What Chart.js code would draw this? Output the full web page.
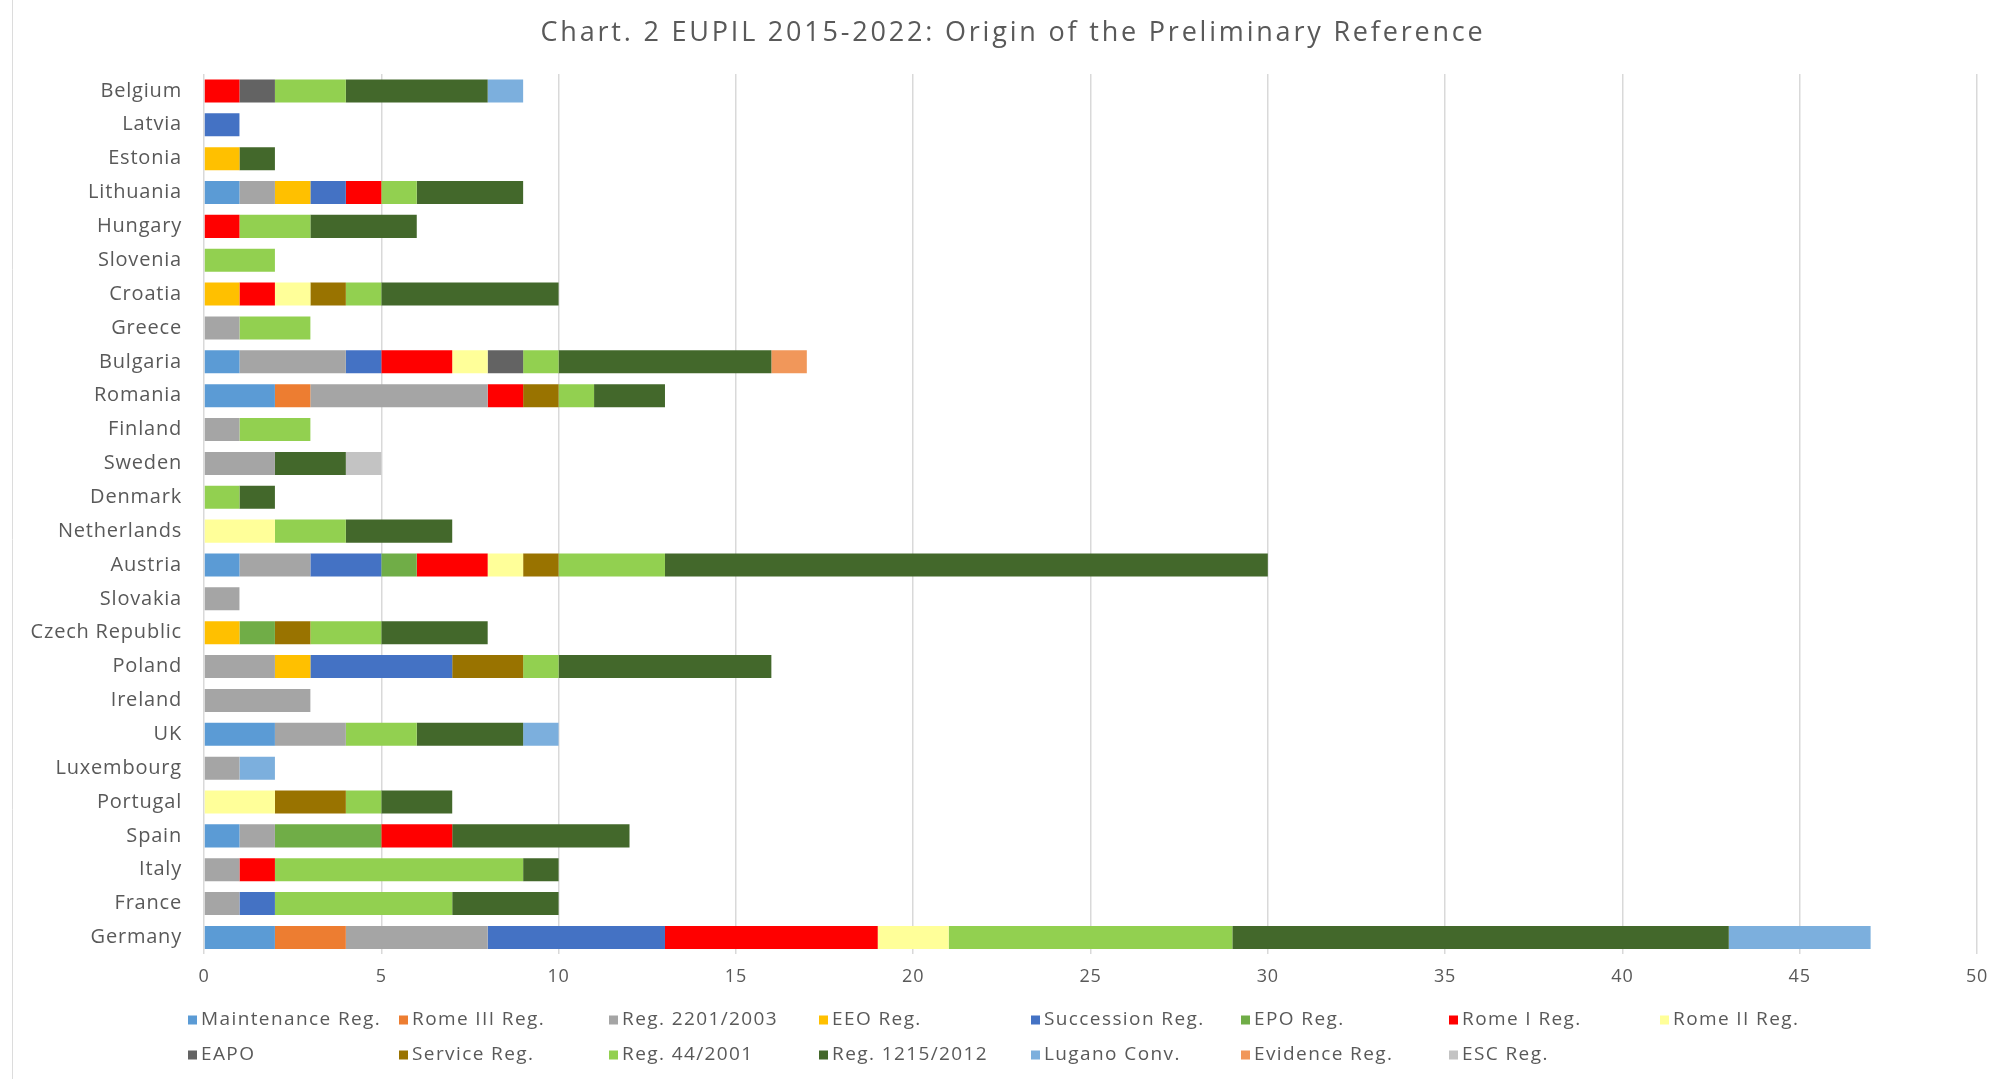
<!DOCTYPE html>
<html>
<head>
<meta charset="utf-8">
<script src="https://cdn.jsdelivr.net/npm/chart.js@4.4.1/dist/chart.umd.min.js"></script>
<style>
  html, body { margin: 0; padding: 0; background: #ffffff; }
  #wrap { width: 2006px; height: 1079px; position: relative; }
</style>
</head>
<body>
<div id="wrap"><canvas id="c" width="2006" height="1079"></canvas></div>
<script>
// ---- Data ----
const chartTitle = 'Chart. 2 EUPIL 2015-2022: Origin of the Preliminary Reference';

const countries = ["Belgium","Latvia","Estonia","Lithuania","Hungary","Slovenia","Croatia","Greece","Bulgaria","Romania","Finland","Sweden","Denmark","Netherlands","Austria","Slovakia","Czech Republic","Poland","Ireland","UK","Luxembourg","Portugal","Spain","Italy","France","Germany"];

const seriesNames = ["Maintenance Reg.","Rome III Reg.","Reg. 2201/2003","EEO Reg.","Succession Reg.","EPO Reg.","Rome I Reg.","Rome II Reg.","EAPO","Service Reg.","Reg. 44/2001","Reg. 1215/2012","Lugano Conv.","Evidence Reg.","ESC Reg."];

//                         Be La Es Li Hu Sl Cr Gr Bu Ro Fi Sw De Ne Au Sk Cz Po Ir UK Lu Pt Sp It Fr Ge
const maintenanceReg  = [0, 0, 0, 1, 0, 0, 0, 0, 1, 2, 0, 0, 0, 0, 1, 0, 0, 0, 0, 2, 0, 0, 1, 0, 0, 2];
const romeIIIReg      = [0, 0, 0, 0, 0, 0, 0, 0, 0, 1, 0, 0, 0, 0, 0, 0, 0, 0, 0, 0, 0, 0, 0, 0, 0, 2];
const reg2201         = [0, 0, 0, 1, 0, 0, 0, 1, 3, 5, 1, 2, 0, 0, 2, 1, 0, 2, 3, 2, 1, 0, 1, 1, 1, 4];
const eeoReg          = [0, 0, 1, 1, 0, 0, 1, 0, 0, 0, 0, 0, 0, 0, 0, 0, 1, 1, 0, 0, 0, 0, 0, 0, 0, 0];
const successionReg   = [0, 1, 0, 1, 0, 0, 0, 0, 1, 0, 0, 0, 0, 0, 2, 0, 0, 4, 0, 0, 0, 0, 0, 0, 1, 5];
const epoReg          = [0, 0, 0, 0, 0, 0, 0, 0, 0, 0, 0, 0, 0, 0, 1, 0, 1, 0, 0, 0, 0, 0, 3, 0, 0, 0];
const romeIReg        = [1, 0, 0, 1, 1, 0, 1, 0, 2, 1, 0, 0, 0, 0, 2, 0, 0, 0, 0, 0, 0, 0, 2, 1, 0, 6];
const romeIIReg       = [0, 0, 0, 0, 0, 0, 1, 0, 1, 0, 0, 0, 0, 2, 1, 0, 0, 0, 0, 0, 0, 2, 0, 0, 0, 2];
const eapo            = [1, 0, 0, 0, 0, 0, 0, 0, 1, 0, 0, 0, 0, 0, 0, 0, 0, 0, 0, 0, 0, 0, 0, 0, 0, 0];
const serviceReg      = [0, 0, 0, 0, 0, 0, 1, 0, 0, 1, 0, 0, 0, 0, 1, 0, 1, 2, 0, 0, 0, 2, 0, 0, 0, 0];
const reg44           = [2, 0, 0, 1, 2, 2, 1, 2, 1, 1, 2, 0, 1, 2, 3, 0, 2, 1, 0, 2, 0, 1, 0, 7, 5, 8];
const reg1215         = [4, 0, 1, 3, 3, 0, 5, 0, 6, 2, 0, 2, 1, 3,17, 0, 3, 6, 0, 3, 0, 2, 5, 1, 3,14];
const luganoConv      = [1, 0, 0, 0, 0, 0, 0, 0, 0, 0, 0, 0, 0, 0, 0, 0, 0, 0, 0, 1, 1, 0, 0, 0, 0, 4];
const evidenceReg     = [0, 0, 0, 0, 0, 0, 0, 0, 1, 0, 0, 0, 0, 0, 0, 0, 0, 0, 0, 0, 0, 0, 0, 0, 0, 0];
const escReg          = [0, 0, 0, 0, 0, 0, 0, 0, 0, 0, 0, 1, 0, 0, 0, 0, 0, 0, 0, 0, 0, 0, 0, 0, 0, 0];

const xTicks = [0, 5, 10, 15, 20, 25, 30, 35, 40, 45, 50];

const seriesValues = [maintenanceReg, romeIIIReg, reg2201, eeoReg, successionReg, epoReg, romeIReg, romeIIReg, eapo, serviceReg, reg44, reg1215, luganoConv, evidenceReg, escReg];
const seriesColors = ["#5B9BD5","#ED7D31","#A5A5A5","#FFC000","#4472C4","#70AD47","#FF0000","#FFFF99","#636363","#997300","#92D050","#43682B","#7CAFDD","#F1975A","#C3C3C3"];

const FONT = "'Open Sans', 'DejaVu Sans', sans-serif";
const TEXT = "#595959";

const datasets = seriesNames.map((name, i) => ({
  label: name,
  data: seriesValues[i],
  backgroundColor: seriesColors[i],
  borderWidth: 0,
  barPercentage: 0.68,
  categoryPercentage: 1.0
}));

// Excel-style title, frame line and fixed-column legend
const excelDecor = {
  id: 'excelDecor',
  beforeDraw(chart, args, opts) {
    const ctx = chart.ctx;
    ctx.save();
    ctx.fillStyle = '#ffffff';
    ctx.fillRect(0, 0, chart.width, chart.height);
    ctx.strokeStyle = '#dcdcdc';
    ctx.lineWidth = 1;
    ctx.beginPath();
    ctx.moveTo(12.5, 0);
    ctx.lineTo(12.5, chart.height);
    ctx.stroke();
    // title
    ctx.letterSpacing = opts.titleSpacing;
    ctx.font = opts.titleFont;
    ctx.fillStyle = opts.color;
    ctx.textAlign = 'center';
    ctx.textBaseline = 'middle';
    ctx.fillText(opts.title, opts.titleX, opts.titleY);
    ctx.restore();
    // slight letter spacing for axis labels (Excel-like wide rendering)
    ctx.letterSpacing = opts.axisSpacing;
  },
  afterDraw(chart, args, opts) {
    const ctx = chart.ctx;
    ctx.save();
    ctx.letterSpacing = opts.legendSpacing;
    ctx.font = opts.legendFont;
    ctx.textBaseline = 'middle';
    ctx.textAlign = 'left';
    chart.data.datasets.forEach((ds, i) => {
      const row = Math.floor(i / opts.perRow);
      const col = i % opts.perRow;
      const x = opts.cols[col];
      const y = opts.rows[row];
      ctx.fillStyle = ds.backgroundColor;
      ctx.fillRect(x, y - opts.box / 2, opts.box, opts.box);
      ctx.fillStyle = opts.color;
      ctx.fillText(ds.label, x + opts.box + 4, y);
    });
    ctx.restore();
    ctx.letterSpacing = '0px';
  }
};

new Chart(document.getElementById('c'), {
  type: 'bar',
  data: { labels: countries, datasets },
  options: {
    indexAxis: 'y',
    responsive: false,
    animation: false,
    layout: { padding: { left: 0, right: 29, top: 74, bottom: 79 } },
    plugins: {
      legend: { display: false },
      tooltip: { enabled: false },
      title: { display: false },
      excelDecor: {
        title: chartTitle,
        titleFont: "27px 'Open Sans', 'DejaVu Sans', sans-serif",
        titleSpacing: '2.8px',
        titleX: 1013,
        titleY: 33,
        axisSpacing: '0.8px',
        cols: [188, 399, 609, 819, 1031, 1241, 1449, 1660],
        rows: [1020, 1055],
        perRow: 8,
        box: 9,
        color: TEXT,
        legendFont: "19px 'Open Sans', 'DejaVu Sans', sans-serif",
        legendSpacing: '1.4px'
      }
    },
    scales: {
      x: {
        stacked: true,
        min: 0,
        max: 50,
        afterBuildTicks: (scale) => { scale.ticks = xTicks.map(v => ({ value: v })); },
        ticks: { color: TEXT, font: { family: FONT, size: 18 }, padding: 12 },
        grid: { color: '#d9d9d9', lineWidth: 1.5, drawTicks: false },
        border: { display: false }
      },
      y: {
        stacked: true,
        afterFit: (scale) => { scale.width = 204; },
        ticks: { color: TEXT, font: { family: FONT, size: 20 }, padding: 22, autoSkip: false },
        grid: { display: false, drawTicks: false },
        border: { display: false }
      }
    }
  },
  plugins: [excelDecor]
});
</script>
</body>
</html>
